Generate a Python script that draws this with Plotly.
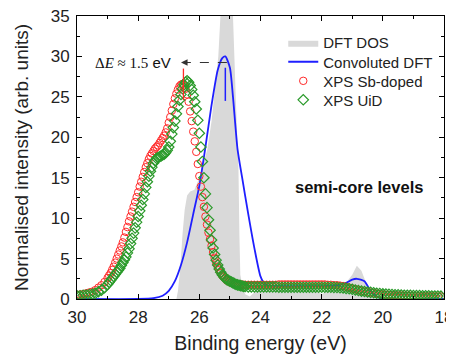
import plotly.graph_objects as go

# ---------------- data ----------------
# XPS energy grids (eV): coarse tails + fine peak region
e_left = [30.0, 29.9, 29.8, 29.7, 29.6, 29.5, 29.4, 29.3, 29.2, 29.1]
e_mid = [round(29.0 - 0.05 * i, 2) for i in range(91)]
e_right = [round(24.4 - 0.1 * i, 1) for i in range(64)]
xps_energy = e_left + e_mid + e_right

sb_left = [0.5, 0.55, 0.6, 0.7, 0.8, 0.9, 1.1, 1.4, 1.7, 2.1]
sb_mid = [2.6, 2.9, 3.2, 3.6, 4.0, 4.5, 5.0, 5.5, 6.0, 6.5,
          7.0, 7.6, 8.3, 8.9, 9.6, 10.2, 10.8, 11.4, 12.0, 12.6,
          13.2, 13.9, 14.5, 15.1, 15.7, 16.3, 16.8, 17.3, 17.7, 18.0,
          18.3, 18.6, 18.8, 19.0, 19.3, 19.6, 19.9, 20.2, 20.6, 21.1,
          21.8, 22.5, 23.3, 24.1, 24.8, 25.4, 25.9, 26.3, 26.5, 26.6,
          26.4, 26.0, 25.3, 24.4, 23.2, 22.0, 20.7, 19.5, 18.2, 16.7,
          15.2, 13.9, 12.6, 11.4, 10.2, 9.2, 8.2, 7.4, 6.6, 5.8,
          5.1, 4.5, 4.0, 3.6, 3.2, 2.9, 2.7, 2.5, 2.3, 2.2,
          2.1, 2.0, 1.95, 1.9, 1.85, 1.8, 1.8, 1.8, 1.75, 1.75,
          1.75]
sb_right = [1.75, 1.75, 1.75, 1.75, 1.75, 1.75, 1.75, 1.75, 1.75, 1.75,
            1.8, 1.8, 1.8, 1.8, 1.8, 1.8, 1.8, 1.8, 1.8, 1.8,
            1.8, 1.8, 1.8, 1.8, 1.8,
            1.8, 1.75, 1.75, 1.7, 1.7, 1.65, 1.6, 1.5, 1.4, 1.3,
            1.2, 1.1, 1.0, 0.92, 0.85, 0.8, 0.72, 0.66, 0.6, 0.56,
            0.52, 0.5, 0.47, 0.45, 0.43, 0.42, 0.4, 0.39, 0.38, 0.37,
            0.36, 0.35, 0.34, 0.33, 0.32, 0.32, 0.31, 0.3, 0.3]
xps_sb = sb_left + sb_mid + sb_right

uid_left = [0.4, 0.4, 0.45, 0.5, 0.55, 0.6, 0.7, 0.9, 1.1, 1.4]
uid_mid = [1.8, 2.05, 2.3, 2.55, 2.8, 3.05, 3.3, 3.55, 3.8, 4.15,
           4.5, 4.85, 5.2, 5.7, 6.2, 6.85, 7.5, 8.15, 8.8, 9.5,
           10.2, 10.9, 11.6, 12.3, 13.0, 13.8, 14.5, 15.2, 15.8, 16.3,
           16.8, 17.1, 17.4, 17.5, 17.6, 17.7, 17.8, 17.9, 18.1, 18.4,
           18.8, 19.5, 20.4, 21.2, 22.0, 22.9, 23.8, 24.6, 25.3, 26.0,
           26.5, 26.8, 27.0, 26.8, 26.4, 25.9, 25.2, 24.4, 23.5, 22.1,
           20.5, 18.8, 17.0, 15.0, 13.0, 11.3, 9.8, 8.5, 7.3, 6.3,
           5.5, 4.8, 4.2, 3.7, 3.3, 3.0, 2.75, 2.55, 2.4, 2.3,
           2.2, 2.1, 2.0, 1.9, 1.8, 1.75, 1.7, 1.65, 1.6, 1.55,
           1.55]
uid_right = [1.5, 1.5, 1.5, 1.5, 1.5, 1.5, 1.5, 1.5, 1.5, 1.5,
             1.45, 1.45, 1.45, 1.45, 1.45, 1.45, 1.45, 1.45, 1.45, 1.45,
             1.45, 1.45, 1.45, 1.45, 1.45,
             1.45, 1.45, 1.45, 1.44, 1.42, 1.4, 1.36, 1.31, 1.26, 1.2,
             1.12, 1.05, 0.98, 0.92, 0.87, 0.82, 0.77, 0.72, 0.67, 0.63,
             0.6, 0.57, 0.55, 0.53, 0.51, 0.49, 0.47, 0.46, 0.45, 0.44,
             0.43, 0.42, 0.41, 0.4, 0.39, 0.38, 0.37, 0.36, 0.35]
xps_uid = uid_left + uid_mid + uid_right

assert len(xps_energy) == len(xps_sb) == len(xps_uid), (len(xps_energy), len(xps_sb), len(xps_uid))

# DFT density of states (grey area)
dos_energy = [30.0, 27.2, 26.75, 26.7, 26.62, 26.55, 26.48, 26.4, 26.3, 26.16,
              26.0, 25.85, 25.74, 25.6, 25.5, 25.38, 25.31, 25.2, 25.0, 24.9,
              24.8, 24.72, 24.69, 24.66, 24.6, 24.5, 24.35, 24.2, 24.0, 23.5,
              23.0, 22.5, 22.2, 22.0, 21.8, 21.6, 21.4, 21.2, 21.0, 20.85,
              20.7, 20.55, 20.4, 20.25, 20.1, 18.0]
dos_value = [0, 0, 0, 1, 4, 8, 11, 12.8, 13.3, 13.5,
             15, 17, 18.5, 22, 26, 30, 35, 42, 42, 35,
             24, 16, 8, 3, 1.8, 0.6, 0.3, 0.8, 1.5, 1.7,
             1.6, 1.6, 1.2, 0.6, 1.0, 1.5, 1.6, 2.0, 3.0, 4.1,
             3.5, 2.0, 0.8, 0.2, 0, 0]

# Convoluted DFT (blue line)
conv_energy = [30.0, 28.0, 27.5, 27.2, 27.0, 26.8, 26.6, 26.4, 26.2, 26.0,
               25.8, 25.6, 25.4, 25.25, 25.15, 25.0, 24.9, 24.75, 24.6, 24.4,
               24.2, 24.0, 23.85, 23.7, 23.0, 22.0, 21.5, 21.2, 21.0, 20.85,
               20.6, 20.4, 20.2, 20.0, 19.0, 18.0]
conv_value = [0, 0, 0.1, 0.4, 1.0, 2.2, 4.2, 7.0, 10.5, 14.0,
              18.8, 24.0, 28.3, 29.8, 30.0, 28.6, 25.0, 18.5, 15.0, 10.5,
              6.3, 2.8, 1.8, 1.65, 1.6, 1.6, 1.7, 2.0, 2.4, 2.5,
              2.2, 1.0, 0.3, 0.05, 0, 0]

x_ticks = [30, 28, 26, 24, 22, 20, 18]
y_ticks = [0, 5, 10, 15, 20, 25, 30, 35]

# ---------------- figure ----------------
FONT = "Liberation Sans, Arial, sans-serif"
TXT = "#222222"
fig = go.Figure()

fig.add_trace(go.Scatter(
    x=dos_energy, y=dos_value, name="DFT DOS", mode="lines", legend="legend",
    line=dict(width=0, color="#d9d9d9"), fill="tozeroy", fillcolor="#d9d9d9",
))
fig.add_trace(go.Scatter(
    x=conv_energy, y=conv_value, name="Convoluted DFT", mode="lines", legend="legend2",
    line=dict(color="#1f1fff", width=1.8, shape="spline", smoothing=0.6),
))
fig.add_trace(go.Scatter(
    x=xps_energy, y=xps_sb, name="XPS Sb-doped", mode="markers", legend="legend3",
    marker=dict(symbol="circle-open", size=7.5, color="#ff2a2a", line=dict(width=1)),
))
fig.add_trace(go.Scatter(
    x=xps_energy, y=xps_uid, name="XPS UiD", mode="markers", legend="legend4",
    marker=dict(symbol="diamond-open", size=8, color="#2a9a2a", line=dict(width=1.2)),
))

# peak position markers
fig.add_shape(type="line", x0=26.52, x1=26.52, y0=24.6, y1=28.5,
              line=dict(color="#ff2a2a", width=1.3))
fig.add_shape(type="line", x0=25.15, x1=25.15, y0=24.5, y1=28.6,
              line=dict(color="#1f1fff", width=1.5))
# dashed arrow
fig.add_shape(type="line", x0=25.1, x1=26.45, y0=29.25, y1=29.25,
              line=dict(color="#333333", width=1.2, dash="dash"))
fig.add_annotation(x=26.6, y=29.25, ax=26.4, ay=29.25, axref="x", ayref="y",
                   xref="x", yref="y", text="", showarrow=True,
                   arrowhead=2, arrowsize=1.1, arrowwidth=1.2, arrowcolor="#333333")

fig.add_annotation(x=26.87, y=29.3, xref="x", yref="y", xanchor="right", yanchor="middle",
                   showarrow=False,
                   text="<span style='font-family:Liberation Serif, Times New Roman, serif'>Δ<i>E</i> ≈ 1.5</span> eV",
                   font=dict(size=15, color="#111111", family=FONT))
fig.add_annotation(x=20.78, y=13.8, xref="x", yref="y", showarrow=False,
                   text="<b>semi-core levels</b>",
                   font=dict(size=16.5, color="#111111", family=FONT))

axis_common = dict(
    showline=True, linecolor="black", linewidth=1, mirror="ticks",
    ticks="inside", ticklen=5, tickwidth=1, tickcolor="black",
    showgrid=False, zeroline=False, automargin=False,
    ticklabeloverflow="allow",
    tickfont=dict(size=17, color=TXT, family=FONT),
)
fig.update_xaxes(
    range=[30, 18], tickvals=x_ticks,
    minor=dict(ticks="inside", ticklen=3, dtick=1, tickcolor="black"),
    title=dict(text="Binding energy (eV)", font=dict(size=19.5, color=TXT, family=FONT), standoff=9),
    ticklabelstandoff=3,
    **axis_common,
)
fig.update_yaxes(
    range=[0, 35], tickvals=y_ticks,
    minor=dict(ticks="inside", ticklen=3, dtick=2.5, tickcolor="black"),
    title=dict(text="Normalised intensity (arb. units)", font=dict(size=19, color=TXT, family=FONT), standoff=17),
    ticklabelstandoff=3,
    **axis_common,
)

def leg(yc):
    return dict(x=0.562, y=yc, xanchor="left", yanchor="middle",
                bgcolor="rgba(0,0,0,0)", font=dict(size=15, family=FONT, color=TXT),
                itemwidth=30)

# the page adds an 8px body margin, so the figure is sized to fit the window
fig.update_layout(
    width=446, height=348,
    margin=dict(l=69, r=10, t=8, b=57),
    paper_bgcolor="white", plot_bgcolor="white",
    font=dict(family=FONT, color=TXT),
    legend=leg(0.905), legend2=leg(0.8375), legend3=leg(0.770), legend4=leg(0.703),
    showlegend=True,
)

fig.write_html("out.html")
